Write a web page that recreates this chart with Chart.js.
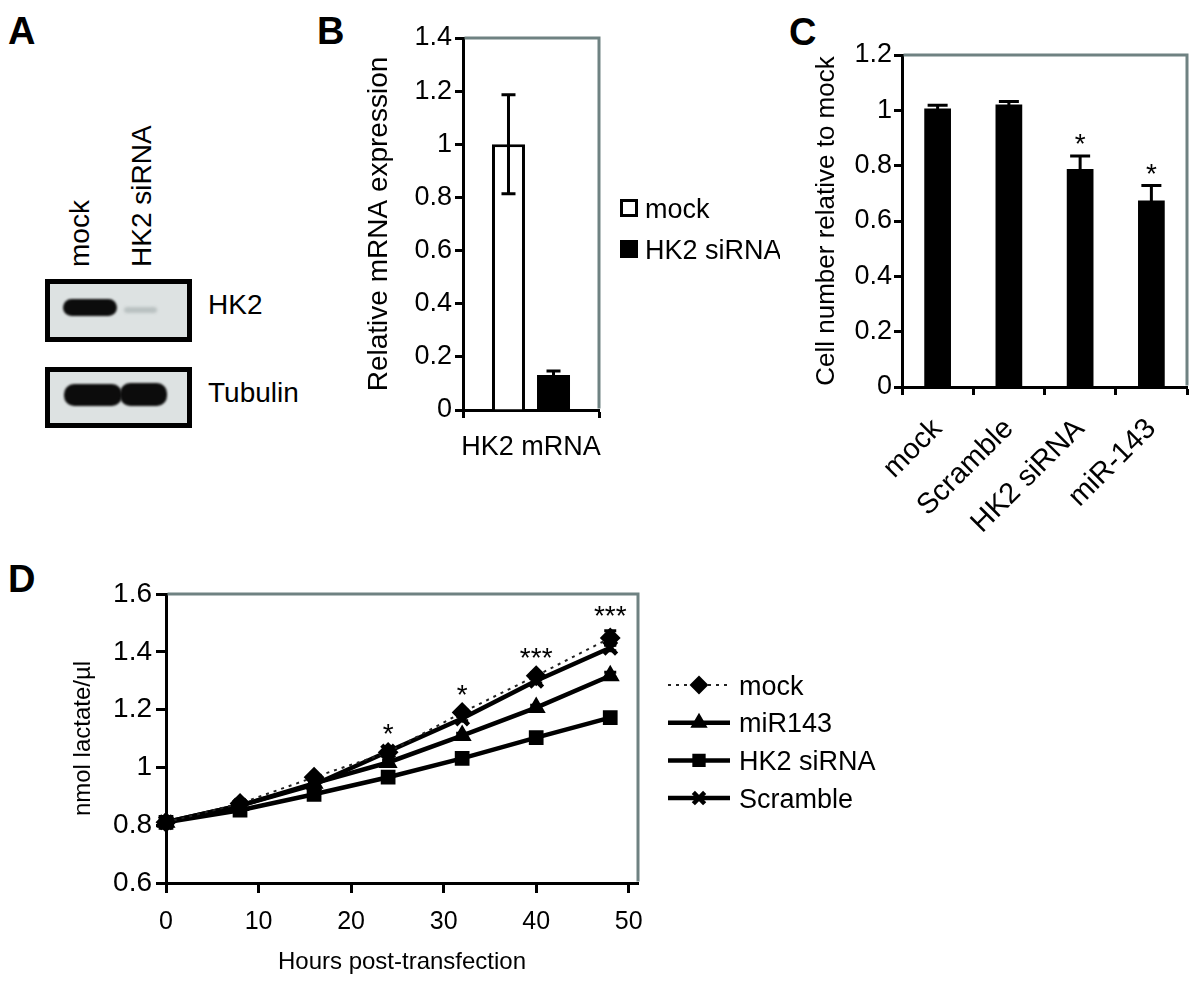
<!DOCTYPE html>
<html>
<head>
<meta charset="utf-8">
<script src="https://cdn.jsdelivr.net/npm/chart.js@4.4.1/dist/chart.umd.min.js"></script>
<style>
  body { margin: 0; background: #fff; width: 1200px; height: 981px; position: relative; overflow: hidden;
         font-family: 'Liberation Sans', Arial, sans-serif; color: #000; }
  .abs { position: absolute; line-height: 1; white-space: nowrap; }
  .letter { font-weight: bold; font-size: 38px; }
  .lab { font-size: 28px; }
  .rot { transform-origin: 0 0; transform: rotate(-90deg); }
  .blot { position: absolute; box-sizing: border-box; border: 5px solid #000; background: #dde2e2; }
  .band { position: absolute; background: #0c0c0c; border-radius: 10px; filter: blur(1px); }
  canvas { position: absolute; }
</style>
</head>
<body>

<!-- panel letters -->
<div class="abs letter" style="left:8px;top:12px">A</div>
<div class="abs letter" style="left:317px;top:12px">B</div>
<div class="abs letter" style="left:789px;top:13px">C</div>
<div class="abs letter" style="left:8px;top:560px">D</div>

<!-- panel A: western blot -->
<div class="abs lab rot" style="left:66px;top:267px">mock</div>
<div class="abs lab rot" style="left:128px;top:267px">HK2 siRNA</div>
<div class="blot" style="left:45px;top:279px;width:147px;height:63px"></div>
<div class="band" style="left:63px;top:299px;width:54px;height:17px"></div>
<div class="band" style="left:124px;top:307px;width:33px;height:6px;background:#b9c1c1;filter:blur(1.5px)"></div>
<div class="abs lab" style="left:208px;top:291px">HK2</div>
<div class="blot" style="left:45px;top:367px;width:147px;height:61px"></div>
<div class="band" style="left:64px;top:384px;width:58px;height:22px"></div>
<div class="band" style="left:120px;top:383px;width:47px;height:23px"></div>
<div class="abs lab" style="left:208px;top:379px">Tubulin</div>

<canvas id="chartB" width="440" height="480" style="left:340px;top:0px"></canvas>
<canvas id="chartC" width="400" height="560" style="left:800px;top:0px"></canvas>
<canvas id="chartD" width="860" height="411" style="left:60px;top:570px"></canvas>

<script>
// ---- panel B data
const bCategories = ['HK2 mRNA'];
const bMock = [1.0];
const bMockErr = [0.186];
const bSiRNA = [0.132];
const bSiRNAErr = [0.015];

// ---- panel C data
const cCategories = ['mock', 'Scramble', 'HK2 siRNA', 'miR-143'];
const cValues = [1.007, 1.021, 0.788, 0.674];
const cErr = [0.011, 0.011, 0.047, 0.054];
const cStars = ['', '', '*', '*'];

// ---- panel D data
const dHours = [0, 8, 16, 24, 32, 40, 48];
const dMock = [0.81, 0.875, 0.966, 1.052, 1.19, 1.317, 1.448];
const dMockErr = [0.005, 0.006, 0.008, 0.008, 0.01, 0.01, 0.025];
const dMiR143 = [0.81, 0.868, 0.945, 1.017, 1.11, 1.207, 1.317];
const dMiR143Err = [0.005, 0.005, 0.006, 0.008, 0.008, 0.008, 0.012];
const dHK2 = [0.81, 0.852, 0.907, 0.966, 1.031, 1.103, 1.172];
const dHK2Err = [0.005, 0.005, 0.005, 0.006, 0.008, 0.008, 0.012];
const dScramble = [0.81, 0.868, 0.94, 1.055, 1.169, 1.30, 1.414];
const dScrambleErr = [0.005, 0.005, 0.006, 0.008, 0.008, 0.008, 0.01];
const dStars = ['', '', '', '*', '*', '***', '***'];

const FAM = "'Liberation Sans', Arial, sans-serif";
Chart.defaults.font.family = FAM;
Chart.defaults.color = '#000';
Chart.defaults.animation = false;

const fmt = v => String(Math.round(v * 10) / 10);
const val = d => (typeof d === 'object' ? d.y : d);

function axis(size, tickLen, pad) {
    return {
        border: { display: true, color: '#000', width: 3 },
        grid: { display: true, drawOnChartArea: false, drawTicks: true, tickLength: tickLen,
                tickWidth: 3, color: '#000', tickColor: '#000' },
        ticks: { color: '#000', font: { size: size }, padding: pad }
    };
}

// grey top/right frame
const frame = {
    id: 'frame',
    beforeDatasetsDraw(chart) {
        const { left, top, right, bottom } = chart.chartArea;
        const ctx = chart.ctx;
        ctx.save();
        ctx.strokeStyle = '#6f8282';
        ctx.lineWidth = 3;
        ctx.beginPath();
        ctx.moveTo(left + 1.5, top);
        ctx.lineTo(right, top);
        ctx.lineTo(right, bottom - 1.5);
        ctx.stroke();
        ctx.restore();
    }
};

const errorBars = {
    id: 'errorBars',
    afterDatasetsDraw(chart, args, o) {
        const ctx = chart.ctx, y = chart.scales.y;
        ctx.save();
        ctx.strokeStyle = '#000';
        ctx.lineWidth = o.width || 3;
        chart.data.datasets.forEach((ds, i) => {
            if (!ds.errors) return;
            chart.getDatasetMeta(i).data.forEach((el, j) => {
                const v = val(ds.data[j]), e = ds.errors[j];
                if (!e) return;
                const t = y.getPixelForValue(v + e), b = y.getPixelForValue(v - e);
                const h = o.cap / 2;
                ctx.beginPath();
                ctx.moveTo(el.x, t); ctx.lineTo(el.x, b);
                ctx.moveTo(el.x - h, t); ctx.lineTo(el.x + h, t);
                ctx.moveTo(el.x - h, b); ctx.lineTo(el.x + h, b);
                ctx.stroke();
            });
        });
        ctx.restore();
    }
};

const stars = {
    id: 'stars',
    afterDatasetsDraw(chart, args, o) {
        const ctx = chart.ctx, y = chart.scales.y;
        ctx.save();
        ctx.font = o.size + 'px ' + FAM;
        ctx.textAlign = 'center';
        ctx.textBaseline = 'alphabetic';
        ctx.fillStyle = '#000';
        o.labels.forEach((lab, j) => {
            if (!lab) return;
            let top = -Infinity, x = 0;
            chart.data.datasets.forEach((ds, i) => {
                x = chart.getDatasetMeta(i).data[j].x;
                top = Math.max(top, val(ds.data[j]) + (ds.errors ? ds.errors[j] : 0));
            });
            const py = y.getPixelForValue(top) - o.gap;
            ctx.fillText(lab, x, py + 0.57 * o.size);
        });
        ctx.restore();
    }
};

const boxLegend = {
    id: 'boxLegend',
    afterDraw(chart, args, o) {
        const ctx = chart.ctx, ca = chart.chartArea;
        ctx.save();
        ctx.font = o.size + 'px ' + FAM;
        chart.data.datasets.forEach((ds, i) => {
            const cy = ca.top + o.rows[i], x = ca.right + o.x;
            ctx.fillStyle = ds.backgroundColor;
            ctx.fillRect(x, cy - o.box / 2, o.box, o.box);
            ctx.strokeStyle = '#000';
            ctx.lineWidth = 3;
            ctx.strokeRect(x + 1.5, cy - o.box / 2 + 1.5, o.box - 3, o.box - 3);
            ctx.fillStyle = '#000';
            ctx.fillText(ds.label, ca.right + o.textX, cy + 0.36 * o.size);
        });
        ctx.restore();
    }
};

const lineLegend = {
    id: 'lineLegend',
    afterDraw(chart, args, o) {
        const ctx = chart.ctx, ca = chart.chartArea;
        ctx.save();
        ctx.font = o.size + 'px ' + FAM;
        chart.data.datasets.forEach((ds, i) => {
            const cy = ca.top + o.top + i * o.gap;
            const x0 = ca.right + o.x0, x1 = ca.right + o.x1;
            ctx.strokeStyle = ds.borderColor;
            ctx.lineWidth = ds.borderWidth;
            ctx.setLineDash(ds.borderDash || []);
            ctx.beginPath(); ctx.moveTo(x0, cy); ctx.lineTo(x1, cy); ctx.stroke();
            ctx.setLineDash([]);
            ctx.fillStyle = ds.pointBackgroundColor;
            ctx.strokeStyle = ds.pointBorderColor;
            ctx.lineWidth = ds.pointBorderWidth;
            Chart.helpers.drawPoint(ctx, { pointStyle: ds.pointStyle, radius: ds.pointRadius - 1,
                rotation: 0, borderWidth: ds.pointBorderWidth }, (x0 + x1) / 2, cy);
            ctx.fillStyle = '#000';
            ctx.fillText(ds.label, ca.right + o.textX, cy + 0.36 * o.size);
        });
        ctx.restore();
    }
};

window.onload = function () {
    // ---- B
    const bx = axis(27, 8, 13);
    bx.ticks.maxRotation = 0; bx.ticks.minRotation = 0; bx.ticks.autoSkip = false;
    bx.afterFit = s => { s.height = 70; };
    const by = axis(27, 8, 3);
    Object.assign(by, { min: 0, max: 1.4, afterFit: s => { s.width = 123; },
        title: { display: true, text: 'Relative mRNA expression', font: { size: 28 }, padding: { top: 22, bottom: 0 } } });
    Object.assign(by.ticks, { stepSize: 0.2, callback: fmt });

    new Chart(document.getElementById('chartB'), {
        type: 'bar',
        data: {
            labels: bCategories,
            datasets: [
                { label: 'mock', data: bMock, errors: bMockErr, backgroundColor: '#fff',
                  borderColor: '#000', borderWidth: 3, barPercentage: 0.733, categoryPercentage: 0.662 },
                { label: 'HK2 siRNA', data: bSiRNA, errors: bSiRNAErr, backgroundColor: '#000',
                  borderColor: '#000', borderWidth: 0, barPercentage: 0.733, categoryPercentage: 0.662 }
            ]
        },
        options: {
            responsive: false,
            layout: { padding: { left: 0, top: 38, right: 181, bottom: 0 } },
            scales: { x: bx, y: by },
            plugins: {
                legend: { display: false }, tooltip: { enabled: false },
                errorBars: { cap: 14 },
                boxLegend: { x: 21, rows: [170, 211], box: 18, textX: 46, size: 27 }
            }
        },
        plugins: [frame, errorBars, boxLegend]
    });

    // ---- C
    const cx = axis(29, 8, 17);
    cx.ticks.maxRotation = 45; cx.ticks.minRotation = 45; cx.ticks.autoSkip = false;
    cx.afterFit = s => { s.height = 173; };
    const cy = axis(27, 8, 2);
    Object.assign(cy, { min: 0, max: 1.2, afterFit: s => { s.width = 102; },
        title: { display: true, text: 'Cell number relative to mock', font: { size: 26 }, padding: { top: 11, bottom: 0 } } });
    Object.assign(cy.ticks, { stepSize: 0.2, callback: fmt });

    new Chart(document.getElementById('chartC'), {
        type: 'bar',
        data: {
            labels: cCategories,
            datasets: [
                { label: 'Cell number', data: cValues, errors: cErr, backgroundColor: '#000',
                  borderWidth: 0, barPercentage: 0.75, categoryPercentage: 0.5 }
            ]
        },
        options: {
            responsive: false,
            layout: { padding: { left: 0, top: 55, right: 13, bottom: 0 } },
            scales: { x: cx, y: cy },
            plugins: {
                legend: { display: false }, tooltip: { enabled: false },
                errorBars: { cap: 20 },
                stars: { labels: cStars, gap: 19, size: 28 }
            }
        },
        plugins: [frame, errorBars, stars]
    });

    // ---- D
    const pts = arr => dHours.map((h, i) => ({ x: h, y: arr[i] }));
    const dx = axis(25, 10, 14);
    Object.assign(dx, { type: 'linear', min: 0, max: 51, afterFit: s => { s.height = 98; },
        title: { display: true, text: 'Hours post-transfection', font: { size: 24 }, padding: { top: 0, bottom: 4 } } });
    Object.assign(dx.ticks, { stepSize: 10, includeBounds: false, maxRotation: 0 });
    const dy = axis(28, 10, 4);
    Object.assign(dy, { min: 0.6, max: 1.6, afterFit: s => { s.width = 106; },
        title: { display: true, text: 'nmol lactate/µl', font: { size: 24 }, padding: { top: 9, bottom: 0 } } });
    Object.assign(dy.ticks, { stepSize: 0.2, callback: fmt });

    const line = (label, data, errors, style, extra) => Object.assign({
        label: label, data: pts(data), errors: errors, borderColor: '#000', borderWidth: 4.5,
        pointStyle: style, pointRadius: 9, pointBorderWidth: 2, pointBackgroundColor: '#000',
        pointBorderColor: '#000', clip: false, tension: 0
    }, extra || {});

    new Chart(document.getElementById('chartD'), {
        type: 'line',
        data: {
            datasets: [
                line('mock', dMock, dMockErr, 'rectRot', { borderWidth: 2, borderDash: [3, 5], borderColor: '#222' }),
                line('miR143', dMiR143, dMiR143Err, 'triangle'),
                line('HK2 siRNA', dHK2, dHK2Err, 'rect'),
                line('Scramble', dScramble, dScrambleErr, 'crossRot', { pointBorderWidth: 4.5 })
            ]
        },
        options: {
            responsive: false,
            layout: { padding: { left: 0, top: 24, right: 282, bottom: 0 } },
            scales: { x: dx, y: dy },
            plugins: {
                legend: { display: false }, tooltip: { enabled: false },
                errorBars: { cap: 12 },
                stars: { labels: dStars, gap: 22, size: 28 },
                lineLegend: { top: 91, gap: 37.7, x0: 30, x1: 92, textX: 101, size: 27 }
            }
        },
        plugins: [frame, errorBars, stars, lineLegend]
    });
};
</script>
</body>
</html>
